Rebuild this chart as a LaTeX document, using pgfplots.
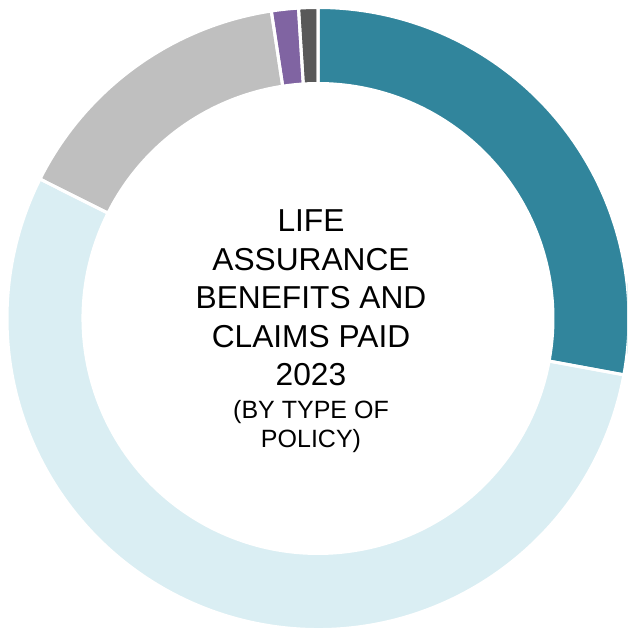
\documentclass[border=0pt]{standalone}
\usepackage{pgfplots}
\usepackage{pgfplotstable}
\pgfplotsset{compat=1.18}
\usepackage{fontspec}
\setmainfont{Liberation Sans}

\definecolor{segTeal}{HTML}{31859C}
\definecolor{segLight}{HTML}{DAEEF3}
\definecolor{segGrey}{HTML}{BFBFBF}
\definecolor{segPurple}{HTML}{8064A2}
\definecolor{segDark}{HTML}{595959}

% share of benefits and claims paid, in percent, clockwise from the top
\pgfplotstableread{
share colour
27.9  segTeal
54.5  segLight
15.2  segGrey
1.4   segPurple
1.0   segDark
}\sharetable

\def\Ro{311}
\def\Ri{235}

\begin{document}
\begin{tikzpicture}
\begin{axis}[
  name=ring,
  hide axis,
  x=1pt, y=1pt,
  xmin=-318, xmax=309,
  ymin=-313.5, ymax=318.5,
  scale only axis,
  clip=true,
]
\pgfplotsextra{
  \pgfplotstablegetrowsof{\sharetable}
  \pgfmathtruncatemacro{\nrows}{\pgfplotsretval-1}
  % filled ring segments
  \gdef\astart{90}
  \foreach \i in {0,...,\nrows}{
    \pgfplotstablegetelem{\i}{share}\of\sharetable
    \pgfmathsetmacro{\aend}{\astart-3.6*\pgfplotsretval}
    \pgfplotstablegetelem{\i}{colour}\of\sharetable
    \edef\segcol{\pgfplotsretval}
    \fill[\segcol] (axis cs:{\Ro*cos(\astart)},{\Ro*sin(\astart)})
      arc[start angle=\astart, end angle=\aend, radius=\Ro pt]
      -- (axis cs:{\Ri*cos(\aend)},{\Ri*sin(\aend)})
      arc[start angle=\aend, end angle=\astart, radius=\Ri pt] -- cycle;
    \xdef\astart{\aend}
  }
  % white separators between segments
  \gdef\astart{90}
  \foreach \i in {0,...,\nrows}{
    \pgfplotstablegetelem{\i}{share}\of\sharetable
    \pgfmathsetmacro{\aend}{\astart-3.6*\pgfplotsretval}
    \draw[white, line width=3pt, line join=miter]
      (axis cs:{\Ro*cos(\astart)},{\Ro*sin(\astart)})
      arc[start angle=\astart, end angle=\aend, radius=\Ro pt]
      -- (axis cs:{\Ri*cos(\aend)},{\Ri*sin(\aend)})
      arc[start angle=\aend, end angle=\astart, radius=\Ri pt] -- cycle;
    \xdef\astart{\aend}
  }
}
% centre title
\begin{scope}[every node/.style={anchor=base, inner sep=0pt, font=\fontsize{31.7}{38}\selectfont}]
\node at (axis cs:-7,86.5) {LIFE};
\node at (axis cs:-7,48) {ASSURANCE};
\node at (axis cs:-7,9.5) {BENEFITS AND};
\node at (axis cs:-7,-29) {CLAIMS PAID};
\node at (axis cs:-7,-67.5) {2023};
\end{scope}
\begin{scope}[every node/.style={anchor=base, inner sep=0pt, font=\fontsize{25}{29}\selectfont}]
\node at (axis cs:-7,-100.5) {(BY TYPE OF};
\node at (axis cs:-7,-129) {POLICY)};
\end{scope}
\end{axis}
\pgfresetboundingbox
\path[use as bounding box] (ring.south west) rectangle (ring.north east);
\end{tikzpicture}
\end{document}
